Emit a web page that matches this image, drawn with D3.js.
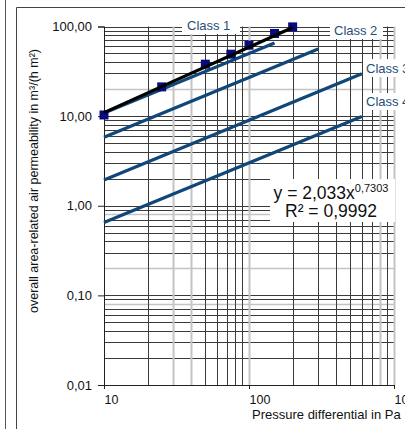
<!DOCTYPE html>
<html>
<head>
<meta charset="utf-8">
<script src="https://cdn.jsdelivr.net/npm/d3@7"></script>
<style>
  body { margin: 0; background: #fff; }
  svg { display: block; font-family: 'Liberation Sans', Arial, sans-serif; }
</style>
</head>
<body>
<div id="chart"></div>
<script>
// NOTE: measured points (pressure in Pa, permeability in m³/(h m²))
const pressures = [10, 25, 50, 75, 100, 150, 200];
const permeability = [10.3, 21.2, 38.0, 49.1, 61.9, 83.6, 99.0];

// NOTE: class limit lines, straight in log-log, given by their two end points
const classNames = ['Class 1', 'Class 2', 'Class 3', 'Class 4'];
const classStartPressure = [10, 10, 10, 10];
const classEndPressure = [150, 300, 600, 600];
const classStartValue = [10.8, 5.8, 1.94, 0.65];
const classEndValue = [65.5, 56.2, 29.7, 9.9];

// NOTE: power trend line end points
const trendPressure = [10, 200];
const trendValue = [10.93, 97.4];
const equationText = ['y = 2,033x', '0,7303'];
const rSquaredText = 'R² = 0,9992';

// NOTE: axes
const xTicks = [10, 100, 1000];
const xTickLabels = ['10', '100', '1000'];
const yTicks = [0.01, 0.1, 1, 10, 100];
const yTickLabels = ['0,01', '0,10', '1,00', '10,00', '100,00'];
const xTitle = 'Pressure differential in Pa';
const yTitle = 'overall area-related air permeability in m³/(h m²)';

const width = 405;
const height = 429;
const plot = { left: 104, right: 394, top: 26.5, bottom: 385 };
const lineColor = '#0f4779';
const labelColor = '#1f4e79';

const x = d3.scaleLog().domain([10, 1000]).range([plot.left, plot.right]);
const y = d3.scaleLog().domain([0.01, 100]).range([plot.bottom, plot.top]);

const svg = d3.select('#chart').append('svg')
  .attr('width', width)
  .attr('height', height);

// frames
svg.append('line')
  .attr('x1', 5.5).attr('x2', 5.5).attr('y1', 0).attr('y2', height)
  .attr('stroke', '#555');
svg.append('path')
  .attr('d', `M16.5,${height}V7.5H${width}`)
  .attr('fill', 'none')
  .attr('stroke', '#444');

// grid
const minorX = [];
[10, 100].forEach((d) => { for (let k = 2; k <= 9; k++) minorX.push(d * k); });
const grayX = [30, 40, 100, 800, 1000];
const allX = [10, ...minorX, 100, 1000];

const allY = [];
[0.01, 0.1, 1, 10].forEach((d) => { for (let k = 1; k <= 9; k++) allY.push(+(d * k).toPrecision(3)); });
allY.push(100);
const grayY = [20, 0.8, 0.2, 0.08];

const grid = svg.append('g').attr('class', 'grid');
grid.selectAll('.hgrid')
  .data(allY)
  .join('line')
  .attr('class', 'hgrid')
  .attr('x1', plot.left).attr('x2', plot.right)
  .attr('y1', (d) => Math.round(y(d)) + 0.5)
  .attr('y2', (d) => Math.round(y(d)) + 0.5)
  .attr('stroke', (d) => grayY.includes(d) ? '#c4c4c4' : '#3a3a3a')
  .attr('stroke-width', (d) => grayY.includes(d) ? 1.5 : 1);
grid.selectAll('.vgrid')
  .data(allX)
  .join('line')
  .attr('class', 'vgrid')
  .attr('y1', plot.top).attr('y2', plot.bottom)
  .attr('x1', (d) => Math.round(x(d)) + 0.5)
  .attr('x2', (d) => Math.round(x(d)) + 0.5)
  .attr('stroke', (d) => grayX.includes(d) ? '#c4c4c4' : '#3a3a3a')
  .attr('stroke-width', (d) => grayX.includes(d) ? 2 : 1);

// axes
const yAxis = d3.axisLeft(y)
  .tickValues(yTicks)
  .tickFormat((d, i) => yTickLabels[i])
  .tickSize(6)
  .tickPadding(6);
const yAxisEl = svg.append('g')
  .attr('transform', `translate(${plot.left},0)`)
  .call(yAxis);
yAxisEl.select('.domain').attr('stroke', '#222');
yAxisEl.selectAll('.tick line').attr('stroke', '#222');
yAxisEl.selectAll('text')
  .attr('font-size', 13)
  .attr('font-family', null)
  .attr('fill', '#111');

const xAxis = d3.axisBottom(x)
  .tickValues(xTicks)
  .tickFormat((d, i) => xTickLabels[i])
  .tickSize(4)
  .tickPadding(6);
const xAxisEl = svg.append('g')
  .attr('transform', `translate(0,${plot.bottom})`)
  .call(xAxis);
xAxisEl.select('.domain').attr('stroke', '#222');
xAxisEl.selectAll('.tick line').attr('stroke', '#222');
xAxisEl.selectAll('text')
  .attr('font-size', 12.5)
  .attr('font-family', null)
  .attr('fill', '#111')
  .attr('text-anchor', 'start');

svg.append('text')
  .attr('x', 252)
  .attr('y', 419)
  .attr('font-size', 13)
  .attr('fill', '#111')
  .text(xTitle);

svg.append('text')
  .attr('transform', 'translate(37.5,313) rotate(-90)')
  .attr('font-size', 12.5)
  .attr('fill', '#111')
  .text(yTitle);

// class lines
const classLines = classNames.map((name, i) => ({
  name,
  points: [
    [classStartPressure[i], classStartValue[i]],
    [classEndPressure[i], classEndValue[i]],
  ],
}));
const line = d3.line().x((d) => x(d[0])).y((d) => y(d[1]));

svg.selectAll('.classLine')
  .data(classLines)
  .join('path')
  .attr('class', 'classLine')
  .attr('d', (d) => line(d.points))
  .attr('fill', 'none')
  .attr('stroke', lineColor)
  .attr('stroke-width', 3.2);

// measured points
const measured = pressures.map((p, i) => [p, permeability[i]]);
const markerSize = 9;
svg.selectAll('.point')
  .data(measured)
  .join('rect')
  .attr('class', 'point')
  .attr('x', (d) => x(d[0]) - markerSize / 2)
  .attr('y', (d) => y(d[1]) - markerSize / 2)
  .attr('width', markerSize)
  .attr('height', markerSize)
  .attr('fill', '#0a0a80');

// trend line
svg.append('path')
  .attr('d', line(trendPressure.map((p, i) => [p, trendValue[i]])))
  .attr('fill', 'none')
  .attr('stroke', '#000')
  .attr('stroke-width', 3.2);

// class labels
const labelBoxes = [
  { x: 182, y: 17, w: 58, h: 17, tx: 187, ty: 30 },
  { x: 330, y: 22, w: 53, h: 17, tx: 334, ty: 35 },
  { x: 363, y: 59, w: 50, h: 18, tx: 366, ty: 73 },
  { x: 363, y: 93, w: 50, h: 17, tx: 366, ty: 106 },
];
const labels = svg.selectAll('.classLabel')
  .data(classNames)
  .join('g')
  .attr('class', 'classLabel');
labels.append('rect')
  .attr('x', (d, i) => labelBoxes[i].x)
  .attr('y', (d, i) => labelBoxes[i].y)
  .attr('width', (d, i) => labelBoxes[i].w)
  .attr('height', (d, i) => labelBoxes[i].h)
  .attr('fill', '#fff');
labels.append('text')
  .attr('x', (d, i) => labelBoxes[i].tx)
  .attr('y', (d, i) => labelBoxes[i].ty)
  .attr('font-size', 13)
  .attr('fill', labelColor)
  .text((d) => d);

// equation box
svg.append('rect')
  .attr('x', 270).attr('y', 179)
  .attr('width', 125).attr('height', 43)
  .attr('fill', '#fff');
const eq = svg.append('text')
  .attr('x', 331)
  .attr('y', 199)
  .attr('text-anchor', 'middle')
  .attr('font-size', 17.5)
  .attr('fill', '#111');
eq.append('tspan').text(equationText[0]);
eq.append('tspan')
  .attr('font-size', 11)
  .attr('dy', -7)
  .text(equationText[1]);
svg.append('text')
  .attr('x', 331)
  .attr('y', 217)
  .attr('text-anchor', 'middle')
  .attr('font-size', 17.5)
  .attr('fill', '#111')
  .text(rSquaredText);
</script>
</body>
</html>
